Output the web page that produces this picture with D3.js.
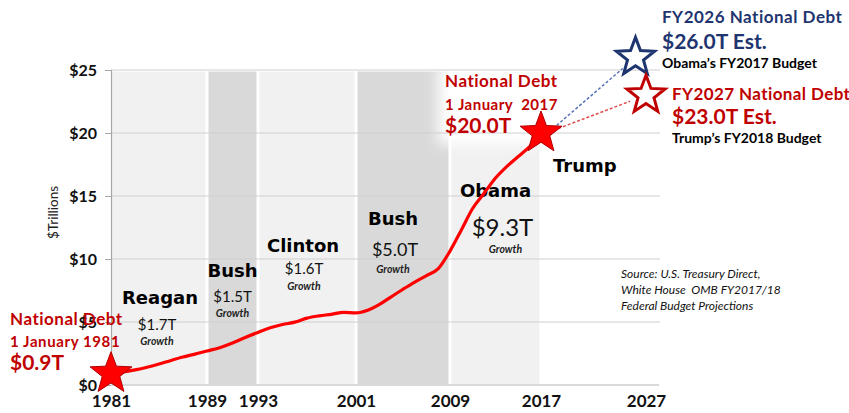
<!DOCTYPE html>
<html>
<head>
<meta charset="utf-8">
<script src="https://cdn.jsdelivr.net/npm/d3@7"></script>
<style>
  html, body { margin: 0; padding: 0; background: #ffffff; }
  svg { display: block; font-family: Lato, "Open Sans", "DejaVu Sans", sans-serif; }
  text { white-space: pre; }
</style>
</head>
<body>
<svg id="chart" width="849" height="413"></svg>
<script>
// ---- data ----
const debtYears = [1981, 1982, 1983, 1984, 1985, 1986, 1987, 1988, 1989, 1990,
                   1991, 1992, 1993, 1994, 1995, 1996, 1997, 1998, 1999, 2000,
                   2001, 2002, 2003, 2004, 2005, 2006, 2007, 2008, 2009, 2010,
                   2011, 2012, 2013, 2014, 2015, 2016, 2017];
const debtTrillions = [0.93, 1.03, 1.20, 1.41, 1.66, 1.95, 2.22, 2.45, 2.70, 2.96,
                       3.33, 3.77, 4.17, 4.54, 4.80, 4.99, 5.31, 5.49, 5.61, 5.77,
                       5.73, 5.94, 6.40, 7.00, 7.60, 8.17, 8.68, 9.23, 10.63, 12.31,
                       14.03, 15.22, 16.43, 17.35, 18.14, 18.92, 19.95];

const xTickYears = [1981, 1989, 1993, 2001, 2009, 2017, 2027];
const yTickValues = [0, 5, 10, 15, 20, 25];
const yTickLabels = ["$0", "$5", "$10", "$15", "$20", "$25"];

const termStart = [1981, 1989, 1993, 2001, 2009];
const termEnd   = [1989, 1993, 2001, 2009, 2017];
const termShade = ["light", "dark", "light", "dark", "light"];
const presidentNames = ["Reagan", "Bush", "Clinton", "Bush", "Obama"];
const termGrowth = ["$1.7T", "$1.5T", "$1.6T", "$5.0T", "$9.3T"];

const startDebt = { year: 1981, value: 0.9 };
const currentDebt = { year: 2017, value: 20.0 };
const obamaEstimate = { year: 2026, value: 26.0 };
const trumpEstimate = { year: 2027, value: 23.0 };

const sourceLines = ["Source: U.S. Treasury Direct,",
                     "White House  OMB FY2017/18",
                     "Federal Budget Projections"];

// ---- layout ----
const svg = d3.select("#chart");
const plotLeft = 111, plotRight = 659, plotTop = 70, plotBottom = 385;
// year axis: the projection decade is drawn a little compressed
const x = d3.scaleLinear()
  .domain([1981, 1989, 1993, 2001, 2009, 2017, 2027])
  .range([plotLeft, 207, 258, 356, 450, 541, 646]);
const y = d3.scaleLinear().domain([0, 25]).range([plotBottom, plotTop]);

const RED = "#c00000", NAVY = "#1f3570";
const HEAVY = "'DejaVu Sans', Lato, sans-serif";

const defs = svg.append("defs");
const glow = defs.append("filter").attr("id", "glow")
  .attr("x", "-30%").attr("y", "-30%").attr("width", "160%").attr("height", "160%");
glow.append("feGaussianBlur").attr("stdDeviation", 7);

// presidential term bands
svg.append("g").selectAll("rect")
  .data(termStart.map((s, i) => ({ s, e: termEnd[i], shade: termShade[i] })))
  .join("rect")
  .attr("x", d => d.s === 1981 ? x(d.s) + 1 : x(d.s) + 1.5)
  .attr("y", y(25) + 1.5)
  .attr("width", d => x(d.e) - x(d.s) - (d.s === 1981 ? 2.5 : 3))
  .attr("height", y(0) - y(25) - 1.5)
  .attr("fill", d => d.shade === "dark" ? "#d9d9d9" : "#f1f1f1");

// soft white halo behind the 2017 annotation
svg.append("rect")
  .attr("x", 438).attr("y", 66).attr("width", 130).attr("height", 78)
  .attr("fill", "#ffffff").attr("filter", "url(#glow)");

// horizontal gridlines
svg.append("g").selectAll("line")
  .data(yTickValues.filter(v => v > 0))
  .join("line")
  .attr("x1", plotLeft).attr("x2", plotRight + 1)
  .attr("y1", d => y(d)).attr("y2", d => y(d))
  .attr("stroke", "#cfcfcf").attr("stroke-width", 1.2);

// y axis
const yAxis = svg.append("g")
  .attr("transform", `translate(${plotLeft},0)`)
  .call(d3.axisLeft(y).tickValues(yTickValues)
    .tickFormat((d, i) => yTickLabels[i]).tickSize(6).tickPadding(8));
yAxis.select(".domain").attr("stroke", "#a6a6a6").attr("stroke-width", 1.2);
yAxis.selectAll(".tick line").attr("stroke", "#a6a6a6");
yAxis.selectAll(".tick text")
  .attr("font-family", "Lato, sans-serif").attr("font-size", 16)
  .attr("font-weight", 700).attr("fill", "#111");

svg.append("text")
  .attr("transform", `translate(58,${(plotTop + plotBottom) / 2 - 15}) rotate(-90)`)
  .attr("text-anchor", "middle")
  .attr("font-size", 13.5).attr("fill", "#222")
  .text("$Trillions");

// x axis
svg.append("line")
  .attr("x1", plotLeft).attr("x2", plotRight)
  .attr("y1", plotBottom).attr("y2", plotBottom)
  .attr("stroke", "#d9d9d9").attr("stroke-width", 2);
const xAxis = svg.append("g")
  .attr("transform", `translate(0,${plotBottom})`)
  .call(d3.axisBottom(x).tickValues(xTickYears).tickFormat(d3.format("d"))
    .tickSize(0).tickPadding(10));
xAxis.select(".domain").remove();
xAxis.selectAll(".tick text")
  .attr("font-family", "Lato, sans-serif").attr("font-size", 17)
  .attr("font-weight", 700).attr("fill", "#111");

// president names, term growth
const nameBase = [304, 277, 252, 225, 197];
const growthSize = [15, 15, 15, 18, 24];
const growthGap = [26, 25, 22, 31, 39];
const termG = svg.append("g").attr("text-anchor", "middle");
presidentNames.forEach((name, i) => {
  const cx = (x(termStart[i]) + x(termEnd[i])) / 2 + [1, 0, -4, -10, 0][i];
  termG.append("text").attr("x", cx).attr("y", nameBase[i])
    .attr("font-family", HEAVY)
    .attr("font-size", 18).attr("font-weight", 700).attr("fill", "#000")
    .text(name);
  termG.append("text").attr("x", cx + [-3, 0, 1, 2, 7][i]).attr("y", nameBase[i] + growthGap[i])
    .attr("font-size", growthSize[i]).attr("fill", "#111")
    .text(termGrowth[i]);
  termG.append("text").attr("x", cx + [-3, 0, 1, 0, 10][i])
    .attr("y", nameBase[i] + growthGap[i] + [15, 15, 16, 17, 17][i])
    .attr("font-size", 10.5).attr("font-weight", 700).attr("font-style", "italic")
    .attr("fill", "#222")
    .text("Growth");
});

// debt line
svg.append("path")
  .datum(debtYears.map((yr, i) => [yr, debtTrillions[i]]))
  .attr("d", d3.line().x(d => x(d[0])).y(d => y(d[1])).curve(d3.curveMonotoneX))
  .attr("fill", "none").attr("stroke", "#ff0000").attr("stroke-width", 3.2)
  .attr("stroke-linejoin", "round").attr("stroke-linecap", "round");

// star shape
function starPath(r, inner) {
  const pts = [];
  for (let k = 0; k < 10; k++) {
    const rad = k % 2 === 0 ? r : r * inner;
    const a = -Math.PI / 2 + k * Math.PI / 5;
    pts.push([rad * Math.cos(a), rad * Math.sin(a)]);
  }
  return "M" + pts.map(p => p.join(",")).join("L") + "Z";
}

// dashed projections
[[obamaEstimate, "#5672b8"], [trumpEstimate, "#e04a4a"]].forEach(([est, col]) => {
  const x0 = x(currentDebt.year) + 8, y0 = y(currentDebt.value) - 1;
  const x1 = x(est.year), y1 = y(est.value);
  const t = 1 - 17 / Math.hypot(x1 - x0, y1 - y0);
  svg.append("line")
    .attr("x1", x0).attr("y1", y0)
    .attr("x2", x0 + (x1 - x0) * t).attr("y2", y0 + (y1 - y0) * t)
    .attr("stroke", col).attr("stroke-width", 1.5).attr("stroke-dasharray", "3,2");
});

// filled stars for actual debt
[startDebt, currentDebt].forEach(p => {
  svg.append("path")
    .attr("d", starPath(22, 0.42))
    .attr("transform", `translate(${x(p.year)},${y(p.value)})`)
    .attr("fill", "#ff0000").attr("stroke", "#b00000").attr("stroke-width", 1);
});
// open stars for estimates
[[obamaEstimate, NAVY], [trumpEstimate, RED]].forEach(([p, col]) => {
  svg.append("path")
    .attr("d", starPath(20, 0.42))
    .attr("transform", `translate(${x(p.year)},${y(p.value)})`)
    .attr("fill", "#ffffff").attr("stroke", col).attr("stroke-width", 3)
    .attr("stroke-linejoin", "miter");
});

// annotations
function block(x0, lines) {
  const g = svg.append("g");
  lines.forEach(l => {
    g.append("text").attr("x", x0).attr("y", l.y)
      .attr("font-size", l.size).attr("font-weight", 700)
      .attr("letter-spacing", l.ls || 0)
      .attr("fill", l.color).text(l.text);
  });
  return g;
}
block(10, [
  { y: 325, size: 17, ls: 0.5, color: RED, text: "National Debt" },
  { y: 347, size: 15, ls: 0.6, color: RED, text: "1 January 1981" },
  { y: 370, size: 21, color: RED, text: "$" + startDebt.value.toFixed(1) + "T" }
]);
block(445, [
  { y: 87, size: 17, ls: 0.5, color: RED, text: "National Debt" },
  { y: 110, size: 15, ls: 0.5, color: RED, text: "1 January  2017" },
  { y: 133, size: 21, color: RED, text: "$" + currentDebt.value.toFixed(1) + "T" }
]);
block(662, [
  { y: 23, size: 17, ls: 0.5, color: NAVY, text: "FY2026 National Debt" },
  { y: 49, size: 21, color: NAVY, text: "$" + obamaEstimate.value.toFixed(1) + "T Est." },
  { y: 68, size: 14, color: "#000", text: "Obama\u2019s FY2017 Budget" }
]);
block(672, [
  { y: 100, size: 17, ls: 0.4, color: RED, text: "FY2027 National Debt" },
  { y: 124, size: 21, color: RED, text: "$" + trumpEstimate.value.toFixed(1) + "T Est." },
  { y: 143, size: 14, color: "#000", text: "Trump\u2019s FY2018 Budget" }
]);
svg.append("text").attr("x", 553).attr("y", 172)
  .attr("font-family", HEAVY)
  .attr("font-size", 18).attr("font-weight", 700).attr("fill", "#000")
  .text("Trump");

// source note
svg.append("g").selectAll("text")
  .data(sourceLines)
  .join("text")
  .attr("x", 621).attr("y", (d, i) => 278 + i * 16)
  .attr("font-size", 12).attr("font-style", "italic").attr("fill", "#111")
  .text(d => d);
</script>
</body>
</html>
